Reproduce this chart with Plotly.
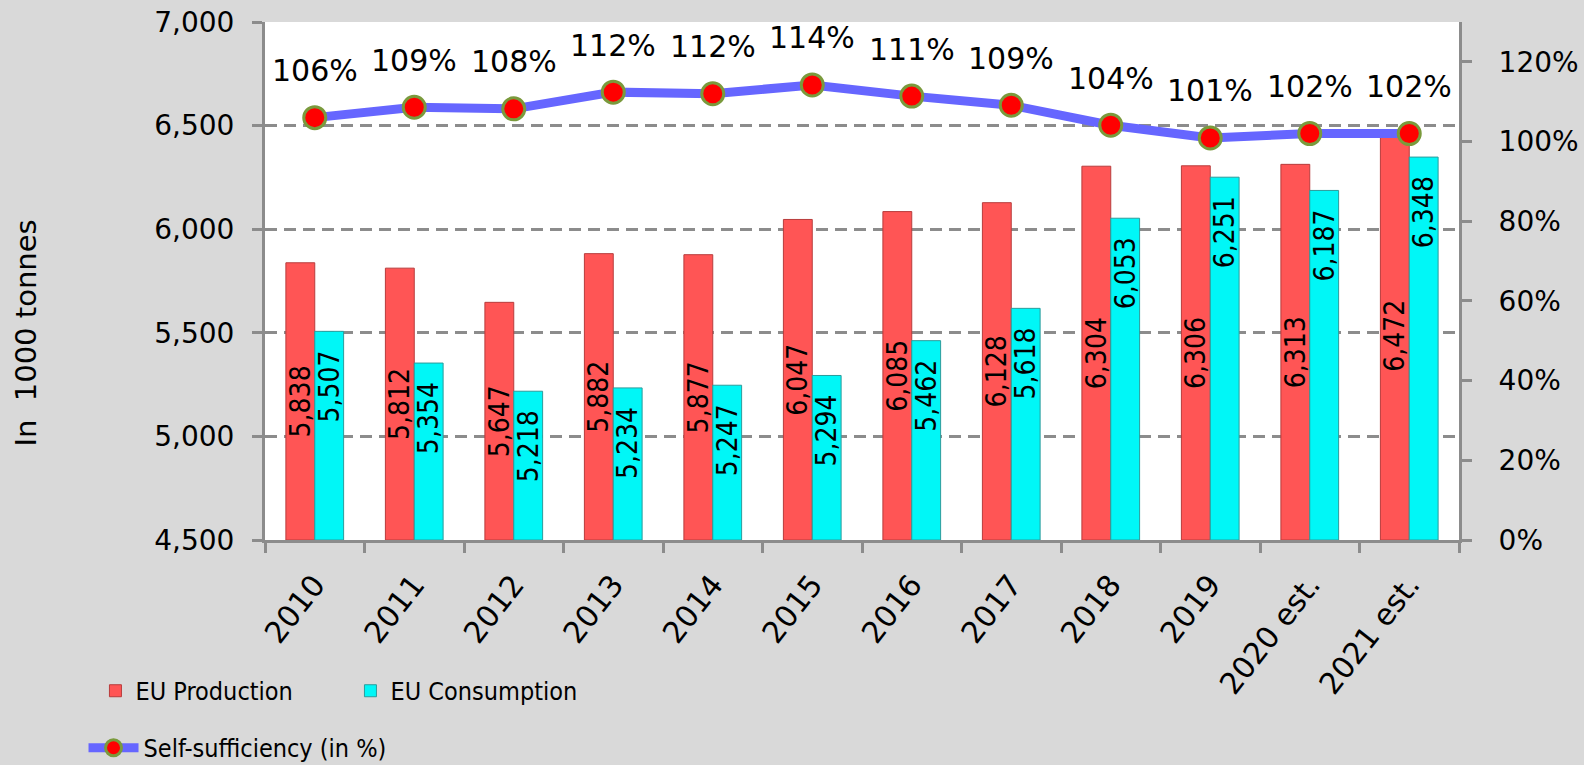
import plotly.graph_objects as go

years = ["2010", "2011", "2012", "2013", "2014", "2015", "2016", "2017",
         "2018", "2019", "2020 est.", "2021 est."]
production = [5838, 5812, 5647, 5882, 5877, 6047, 6085, 6128, 6304, 6306, 6313, 6472]
consumption = [5507, 5354, 5218, 5234, 5247, 5294, 5462, 5618, 6053, 6251, 6187, 6348]
self_suff = [106.0, 108.6, 108.2, 112.4, 112.0, 114.2, 111.4, 109.1, 104.1, 100.9, 102.0, 102.0]
pct_ticks = [0, 20, 40, 60, 80, 100, 120]

Y_MIN, Y_MAX = 4500, 7000

GRAY = "#8c8c8c"
NARROW = "Liberation Sans Narrow, DejaVu Sans Condensed, Arial Narrow, sans-serif"
MAIN = "DejaVu Sans, sans-serif"

fig = go.Figure()

# bars start at the visible axis floor so inside labels centre on the visible part
fig.add_trace(go.Bar(
    x=years, y=[v - Y_MIN for v in production], base=Y_MIN, name="EU Production",
    marker=dict(color="#ff5555", line=dict(color="#b83c3c", width=1)),
    text=production, texttemplate="%{text:,}", textposition="inside",
    insidetextanchor="middle", textangle=-90, constraintext="none",
    textfont=dict(family=NARROW, size=28, color="black"),
    legend="legend",
))
fig.add_trace(go.Bar(
    x=years, y=[v - Y_MIN for v in consumption], base=Y_MIN, name="EU Consumption",
    marker=dict(color="#00f7f7", line=dict(color="#2b9c9c", width=1)),
    text=consumption, texttemplate="%{text:,}\u00a0\u00a0", textposition="inside",
    insidetextanchor="end", textangle=-90, constraintext="none",
    textfont=dict(family=NARROW, size=28, color="black"),
    legend="legend",
))
fig.add_trace(go.Scatter(
    x=years, y=self_suff, name="Self-sufficiency (in %)", yaxis="y2",
    mode="lines+markers",
    line=dict(color="#6666ff", width=9),
    marker=dict(color="#ff0000", size=22, line=dict(color="#7a9a3c", width=3)),
    legend="legend2",
))

annotations = []
for i, v in enumerate(self_suff):
    annotations.append(dict(
        x=i, y=v, xref="x", yref="y2", text=f"{round(v)}%", showarrow=False,
        yshift=47, font=dict(family=MAIN, size=30, color="black"),
    ))
annotations.append(dict(
    x=-0.2005, y=0.3996, xref="paper", yref="paper", text="In  1000 tonnes",
    textangle=-90, showarrow=False, xanchor="center", yanchor="middle",
    font=dict(family=MAIN, size=29, color="black"),
))

fig.update_layout(
    template="none",
    width=1584, height=765,
    margin=dict(l=265, r=125, t=22, b=225, autoexpand=False),
    paper_bgcolor="#d9d9d9", plot_bgcolor="white",
    font=dict(family=MAIN, size=28, color="black"),
    barmode="group", bargap=0.42, bargroupgap=0,
    showlegend=True,
    legend=dict(orientation="h", x=-0.142, y=-0.2915, xanchor="left", yanchor="middle",
                bgcolor="rgba(0,0,0,0)", entrywidth=210, entrywidthmode="pixels",
                font=dict(family=NARROW, size=25, color="black"), traceorder="normal"),
    legend2=dict(orientation="h", x=-0.152, y=-0.4015, xanchor="left", yanchor="middle",
                 bgcolor="rgba(0,0,0,0)", itemwidth=50,
                 font=dict(family=NARROW, size=25, color="black")),
    xaxis=dict(
        type="category", categoryorder="array", categoryarray=years,
        range=[-0.5, len(years) - 0.5], autorange=False,
        tickmode="array", tickvals=years, ticktext=years,
        automargin=False,
        showline=True, linecolor=GRAY, linewidth=3,
        ticks="outside", tickson="boundaries", ticklen=10, tickwidth=3, tickcolor=GRAY,
        tickangle=-52, tickfont=dict(family=MAIN, size=30, color="black"),
        ticklabelstandoff=12,
        showgrid=False, zeroline=False,
    ),
    yaxis=dict(
        range=[Y_MIN, Y_MAX], dtick=500, tickformat=",", automargin=False,
        showline=True, linecolor=GRAY, linewidth=3,
        ticks="outside", ticklen=10, tickwidth=3, tickcolor=GRAY,
        showgrid=True, gridcolor=GRAY, gridwidth=2.5, griddash="12px,7px",
        tickfont=dict(family=MAIN, size=28, color="black"),
        ticklabelstandoff=12, zeroline=False,
    ),
    yaxis2=dict(
        overlaying="y", side="right", range=[0, 130], automargin=False,
        tickvals=pct_ticks, ticktext=[f"{t}%" for t in pct_ticks],
        showline=True, linecolor=GRAY, linewidth=3,
        ticks="outside", ticklen=10, tickwidth=3, tickcolor=GRAY,
        showgrid=False, zeroline=False,
        tickfont=dict(family=MAIN, size=28, color="black"),
        ticklabelstandoff=21,
    ),
    annotations=annotations,
)

fig.write_html("out.html", config={"displayModeBar": False},
               post_script="document.body.style.margin='0';")
